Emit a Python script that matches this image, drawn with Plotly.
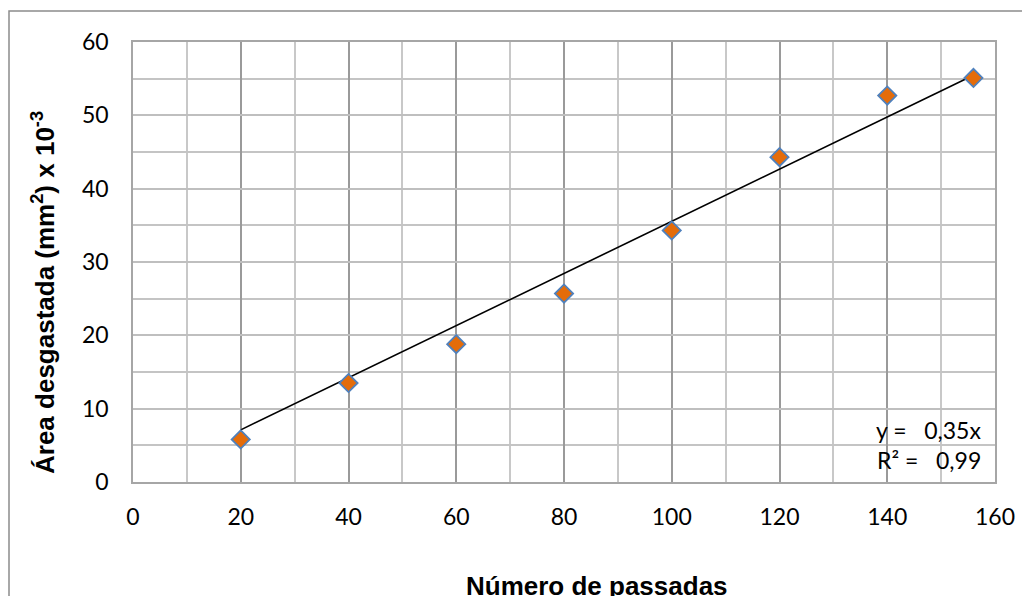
import plotly.graph_objects as go

passes = [20, 40, 60, 80, 100, 120, 140, 156]
area = [5.8, 13.5, 18.8, 25.7, 34.3, 44.3, 52.7, 55.1]

x_ticks = [0, 20, 40, 60, 80, 100, 120, 140, 160]
y_ticks = [0, 10, 20, 30, 40, 50, 60]

eq_text = "y =\u00a0\u00a0 0,35x"
r2_text = "R² =\u00a0\u00a0 0,99"
x_title = "<b>Número de passadas</b>"
y_title = "<b>Área desgastada (mm<sup>2</sup>) x 10<sup>-3</sup></b>"

# linear trend through origin (least squares)
slope = sum(a * b for a, b in zip(passes, area)) / sum(a * a for a in passes)
trend_x = [passes[0], passes[-1]]
trend_y = [slope * v for v in trend_x]

OFF = 8  # browser body margin
W, H = 1030 - OFF, 596 - OFF
L, T = 133 - OFF, 42 - OFF
R = 1030 - 995
B = H - (482 - OFF)
pw, ph = W - L - R, H - T - B

def px(xref):
    return (xref - OFF - L) / pw

def py(yref):
    return (H - B - (yref - OFF)) / ph

fig = go.Figure()
fig.add_trace(go.Scatter(x=trend_x, y=trend_y, mode="lines",
                         line=dict(color="black", width=1.6),
                         showlegend=False, hoverinfo="skip"))
fig.add_trace(go.Scatter(x=passes, y=area, mode="markers",
                         marker=dict(symbol="diamond", size=14, color="#E46C0A",
                                     line=dict(color="#4F81BD", width=1.8)),
                         showlegend=False))

tickfont = dict(family="Lato", size=23, color="black")

fig.update_xaxes(range=[0, 160], tickvals=x_ticks, ticktext=[str(v) for v in x_ticks],
                 showgrid=True, gridcolor="#9a9a9a", gridwidth=1.5,
                 minor=dict(dtick=10, showgrid=True, gridcolor="#c8c8c8", gridwidth=1.5),
                 showline=True, linecolor="#a6a6a6", linewidth=1.5, mirror=True,
                 zeroline=False, ticks="", tickfont=tickfont, ticklabelstandoff=14)
fig.update_yaxes(range=[0, 60], tickvals=y_ticks, ticktext=[str(v) for v in y_ticks],
                 showgrid=True, gridcolor="#bfbfbf", gridwidth=1.5,
                 minor=dict(dtick=5, showgrid=True, gridcolor="#c4c4c4", gridwidth=1.5),
                 showline=True, linecolor="#a6a6a6", linewidth=1.5, mirror=True,
                 zeroline=False, ticks="", tickfont=tickfont, ticklabelstandoff=18)

annot_font = dict(family="Lato", size=23, color="black")
title_font = dict(family="Liberation Sans", size=26, color="black")

fig.update_layout(
    width=W, height=H,
    margin=dict(l=L, r=R, t=T, b=B),
    paper_bgcolor="white", plot_bgcolor="white",
    annotations=[
        dict(text=eq_text, xref="paper", yref="paper", x=px(983), y=py(430),
             xanchor="right", yanchor="middle", showarrow=False, font=annot_font),
        dict(text=r2_text, xref="paper", yref="paper", x=px(983), y=py(460),
             xanchor="right", yanchor="middle", showarrow=False, font=annot_font),
        dict(text=x_title, xref="paper", yref="paper", x=px(597), y=py(586),
             xanchor="center", yanchor="middle", showarrow=False, font=title_font),
        dict(text=y_title, xref="paper", yref="paper", x=px(43), y=py(293),
             xanchor="center", yanchor="middle", showarrow=False, font=title_font,
             textangle=-90),
    ],
    shapes=[
        dict(type="rect", xref="paper", yref="paper",
             x0=px(9), y0=py(640), x1=px(1060), y1=py(11),
             line=dict(color="#8c8c8c", width=1.5), fillcolor="rgba(0,0,0,0)",
             layer="below"),
    ],
)

fig.write_html("out.html")
